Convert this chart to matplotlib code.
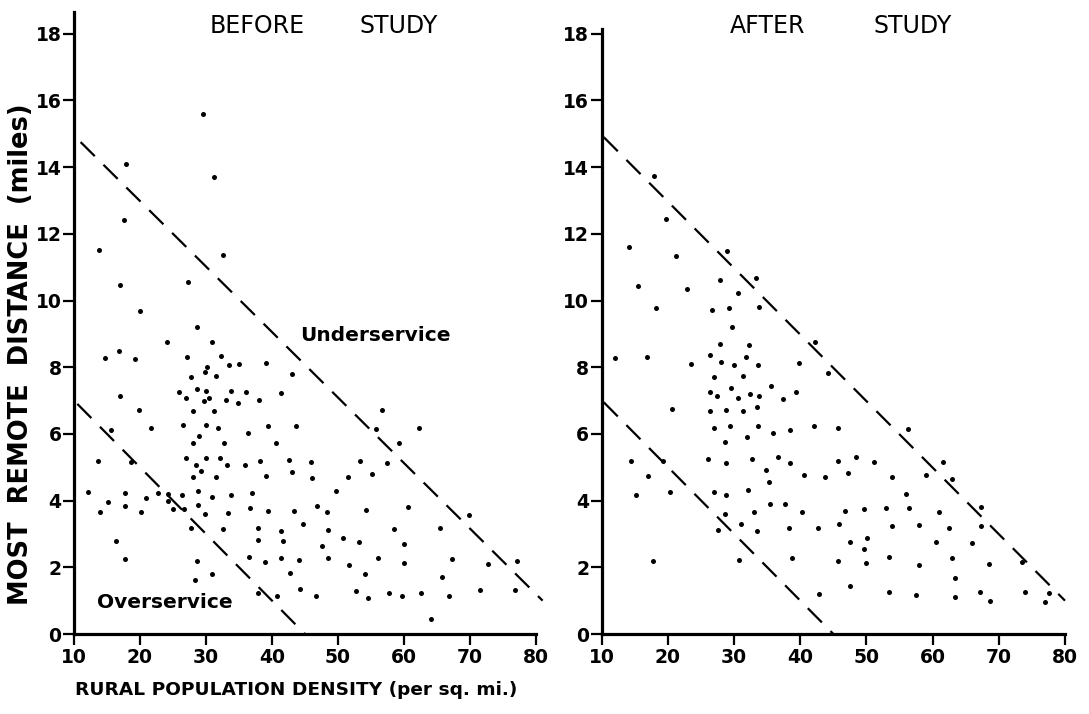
import matplotlib
matplotlib.use('Agg')
import matplotlib.pyplot as plt

# before study: rural population density (per sq. mi.) vs most remote distance (miles)
before_x = [29.6, 17.85, 31.2, 17.65, 13.8, 32.65, 16.95, 27.2, 20.05, 28.6,
            24.05, 30.85, 16.8, 14.7, 19.3, 27.05, 32.2, 33.55, 35.05, 39.05,
            43.1, 30.2, 29.9, 27.7, 31.5, 25.95, 28.7, 30.05, 33.1, 33.75,
            36.1, 34.9, 38.1, 41.4, 16.9, 27.0, 29.7, 30.4, 19.8, 28.0,
            31.25, 26.5, 30.05, 31.85, 36.3, 39.45, 43.6, 15.6, 21.6, 28.9,
            28.1, 32.8, 40.6, 13.7, 18.6, 26.9, 30.0, 32.1, 33.2, 35.9,
            38.2, 42.5, 45.85, 28.5, 29.2, 28.0, 31.55, 39.15, 43.1, 46.05,
            12.05, 17.7, 22.7, 24.3, 26.4, 28.8, 30.9, 33.8, 36.9, 15.2,
            20.9, 17.75, 24.3, 25.0, 26.6, 28.8, 14.0, 20.2, 29.8, 33.3,
            36.6, 39.35, 43.4, 46.8, 27.8, 32.6, 37.9, 41.4, 44.7, 37.95,
            41.7, 16.35, 36.5, 41.3, 44.1, 38.9, 17.75, 28.7, 30.9, 42.7,
            28.4, 44.3, 37.85, 40.8, 46.7,
            56.7, 55.7, 62.3, 59.2, 53.3, 57.4, 51.5, 55.2, 49.7, 48.4,
            54.2, 60.6, 69.9, 48.5, 58.5, 65.4, 50.8, 53.15, 47.55, 60.0,
            48.5, 56.1, 67.3, 77.1, 51.6, 60.05, 72.7, 54.1, 65.7, 52.7,
            54.6, 57.8, 59.75, 62.65, 66.8, 71.5, 76.8, 64.1]
before_y = [15.6, 14.1, 13.7, 12.4, 11.5, 11.35, 10.45, 10.55, 9.7, 9.2,
            8.75, 8.75, 8.5, 8.28, 8.25, 8.32, 8.34, 8.07, 8.1, 8.12,
            7.8, 8.0, 7.87, 7.72, 7.73, 7.25, 7.34, 7.28, 7.03, 7.28,
            7.25, 6.93, 7.02, 7.23, 7.14, 7.09, 7.0, 7.08, 6.72, 6.7,
            6.7, 6.28, 6.27, 6.18, 6.04, 6.25, 6.23, 6.13, 6.19, 5.94,
            5.72, 5.72, 5.73, 5.18, 5.17, 5.27, 5.27, 5.29, 5.07, 5.07,
            5.2, 5.23, 5.16, 5.07, 4.89, 4.72, 4.71, 4.75, 4.85, 4.68,
            4.25, 4.22, 4.23, 4.19, 4.17, 4.29, 4.12, 4.17, 4.24, 3.96,
            4.09, 3.84, 4.0, 3.74, 3.74, 3.87, 3.66, 3.65, 3.6, 3.62,
            3.79, 3.69, 3.69, 3.85, 3.19, 3.16, 3.19, 3.09, 3.31, 2.81,
            2.8, 2.78, 2.3, 2.29, 2.23, 2.17, 2.24, 2.19, 1.8, 1.83,
            1.61, 1.34, 1.24, 1.14, 1.14,
            6.72, 6.15, 6.18, 5.72, 5.2, 5.13, 4.71, 4.8, 4.3, 3.65,
            3.73, 3.81, 3.58, 3.13, 3.16, 3.19, 2.87, 2.77, 2.65, 2.69,
            2.28, 2.29, 2.25, 2.19, 2.06, 2.13, 2.1, 1.81, 1.7, 1.3,
            1.09, 1.24, 1.15, 1.24, 1.14, 1.32, 1.31, 0.45]

# after study
after_x = [17.95, 19.76, 14.17, 21.23, 28.9, 15.53, 22.84, 27.87, 33.27, 30.55,
           18.16, 26.6, 29.19, 33.77, 29.74, 42.27, 27.83, 32.2, 12.0, 16.9,
           26.3, 31.85, 23.54, 28.02, 30.0, 33.66, 39.76, 44.14, 27.0, 31.4,
           26.4, 27.42, 29.49, 30.6, 32.45, 33.8, 35.62, 37.34, 39.3, 20.67,
           26.36, 28.78, 31.4, 33.42, 26.92, 29.38, 33.6, 35.83, 38.45, 42.03,
           45.65, 32.0, 28.63, 14.43, 19.2, 26.06, 28.73, 32.66, 36.68, 38.4,
           45.75, 17.04, 34.78, 40.6, 43.78, 35.3, 15.13, 20.37, 26.97, 28.83,
           32.15, 35.43, 37.7, 28.58, 32.96, 40.26, 45.9, 31.1, 27.52, 33.46,
           38.3, 42.63, 17.8, 30.7, 38.7, 45.75, 42.9,
           56.3, 48.4, 51.1, 61.56, 47.2, 53.8, 59.05, 62.92, 56.0, 46.7,
           49.6, 52.95, 56.43, 61.0, 67.3, 53.86, 57.98, 62.47, 67.35, 47.5,
           50.08, 49.67, 60.55, 65.99, 49.93, 53.45, 57.9, 62.92, 68.47, 73.45,
           47.56, 63.37, 53.4, 57.5, 63.4, 67.15, 68.66, 73.95, 77.6, 77.0]
after_y = [13.73, 12.43, 11.59, 11.33, 11.47, 10.44, 10.35, 10.6, 10.67, 10.22,
           9.79, 9.71, 9.78, 9.81, 9.22, 8.75, 8.69, 8.68, 8.27, 8.32,
           8.37, 8.32, 8.11, 8.16, 8.07, 8.08, 8.14, 7.84, 7.7, 7.75,
           7.27, 7.15, 7.37, 7.07, 7.2, 7.15, 7.43, 7.04, 7.25, 6.74,
           6.68, 6.71, 6.69, 6.81, 6.19, 6.24, 6.24, 6.03, 6.12, 6.25,
           6.17, 5.9, 5.75, 5.2, 5.2, 5.26, 5.14, 5.26, 5.31, 5.14,
           5.2, 4.74, 4.91, 4.78, 4.7, 4.56, 4.18, 4.26, 4.25, 4.16,
           4.31, 3.89, 3.89, 3.61, 3.67, 3.65, 3.3, 3.3, 3.12, 3.09,
           3.19, 3.18, 2.2, 2.23, 2.28, 2.2, 1.2,
           6.15, 5.31, 5.15, 5.15, 4.84, 4.72, 4.78, 4.64, 4.19, 3.68,
           3.75, 3.77, 3.78, 3.67, 3.8, 3.24, 3.27, 3.19, 3.24, 2.77,
           2.88, 2.55, 2.75, 2.74, 2.13, 2.3, 2.07, 2.27, 2.1, 2.17,
           1.45, 1.69, 1.26, 1.16, 1.1, 1.27, 1.0, 1.27, 1.24, 0.95]

# dashed service boundaries (density, distance end points)
before_under_x = [11, 81]
before_under_y = [14.75, 1.0]
before_over_x = [10.5, 45]
before_over_y = [6.9, 0.0]
after_under_x = [10.3, 80]
after_under_y = [14.9, 1.0]
after_over_x = [10.3, 45]
after_over_y = [6.95, 0.0]

xticks = [10, 20, 30, 40, 50, 60, 70, 80]
yticks = [0, 2, 4, 6, 8, 10, 12, 14, 16, 18]

plt.rcParams['font.family'] = ['DejaVu Sans']

W, H = 1089, 714
px_per_mile = 33.35
fig = plt.figure(figsize=(W / 100, H / 100), dpi=100)

def panel(left_px, width_px, ytop, xs, ys, under, over, words, word_x):
    h = ytop * px_per_mile / H
    ax = fig.add_axes([left_px / W, 1 - 634 / H, width_px / W, h])
    ax.plot(xs, ys, 'o', ms=3.6, color='black', mec='none', clip_on=False)
    for lx, ly in (under, over):
        ax.plot(lx, ly, color='black', lw=1.6, dashes=(9, 5.5), clip_on=False)
    ax.set_xlim(10, 80)
    ax.set_ylim(0, ytop)
    ax.set_xticks(xticks)
    ax.set_yticks(yticks)
    ax.set_xticklabels([str(t) for t in xticks], fontsize=13.5, fontweight='bold')
    ax.set_yticklabels([str(t) for t in yticks], fontsize=13.5, fontweight='bold')
    ax.tick_params(axis='x', direction='out', length=8, width=1.6, pad=2)
    ax.tick_params(axis='y', direction='out', length=8, width=1.6, pad=1)
    for s in ['top', 'right']:
        ax.spines[s].set_visible(False)
    for s in ['left', 'bottom']:
        ax.spines[s].set_linewidth(2.3)
    # title words are spaced widely apart in the original
    for w, wx in zip(words, word_x):
        fig.text(wx / W, 1 - 26 / H, w, fontsize=17, ha='center', va='center')
    return ax

ax1 = panel(74, 462, 18.65, before_x, before_y,
            (before_under_x, before_under_y), (before_over_x, before_over_y),
            ['BEFORE', 'STUDY'], [257, 399])
ax2 = panel(601.7, 463.3, 18.15, after_x, after_y,
            (after_under_x, after_under_y), (after_over_x, after_over_y),
            ['AFTER', 'STUDY'], [768, 913])

ax1.text(44.3, 8.95, 'Underservice', fontsize=14.5, fontweight='bold', va='center')
ax1.text(13.5, 0.95, 'Overservice', fontsize=14.5, fontweight='bold', va='center')

fig.text(21 / W, 1 - 354 / H, 'MOST  REMOTE  DISTANCE  (miles)', rotation=90,
         fontsize=18.5, fontweight='bold', ha='center', va='center')
fig.text(75 / W, 1 - 690 / H, 'RURAL POPULATION DENSITY (per sq. mi.)',
         fontsize=13.3, fontweight='bold', ha='left', va='center')

fig.savefig('out.png', dpi=100)
